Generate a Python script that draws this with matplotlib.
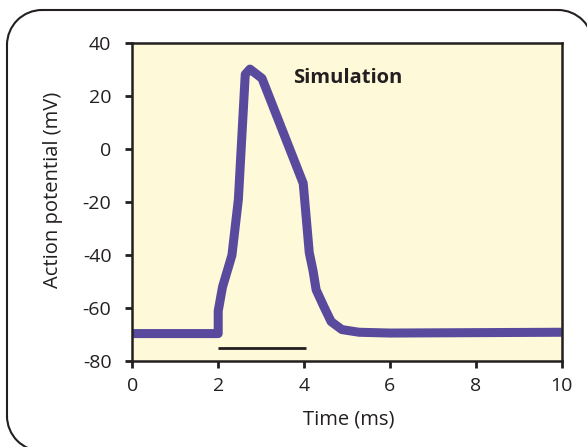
import numpy as np
import matplotlib
matplotlib.use('Agg')
import matplotlib.pyplot as plt
from matplotlib.patches import Arc
from matplotlib.lines import Line2D
from matplotlib.transforms import IdentityTransform

# action potential trace
time_ms = [0, 2.0, 2.0, 2.1, 2.32, 2.47, 2.63, 2.74, 3.02, 3.98, 4.05, 4.12,
           4.21, 4.28, 4.45, 4.63, 4.88, 5.28, 6.0, 10.0]
potential_mv = [-69.5, -69.5, -61, -52, -40, -19, 28, 30, 26.5, -13, -26, -39,
                -46, -53, -59, -65, -68, -69, -69.3, -69]
stim_time = [2.0, 4.05]
stim_level = [-75, -75]

x_ticks = [0, 2, 4, 6, 8, 10]
y_ticks = [40, 20, 0, -20, -40, -60, -80]

plt.rcParams['font.family'] = ['Open Sans', 'DejaVu Sans']
plt.rcParams['axes.unicode_minus'] = False
ink = '#231f20'

fig = plt.figure(figsize=(5.87, 4.47), dpi=100)
ax = fig.add_axes([0.2254, 0.1913, 0.7316, 0.7136])
ax.set_facecolor('#fef9d8')

ax.plot(time_ms, potential_mv, color='#594a9d', lw=6.5,
        solid_joinstyle='round', solid_capstyle='butt')
ax.plot(stim_time, stim_level, color=ink, lw=2, solid_capstyle='butt')

ax.text(3.74, 26.6, 'Simulation', fontsize=14.5, fontweight='bold',
        color=ink, ha='left', va='center')

ax.set_xlim(0, 10)
ax.set_ylim(-80, 40)
ax.set_xticks(x_ticks)
ax.set_yticks(y_ticks)
ax.tick_params(direction='out', length=5, width=2, color=ink,
               labelsize=14, labelcolor=ink)
ax.tick_params(axis='y', pad=10)
ax.tick_params(axis='x', pad=6)
for s in ax.spines.values():
    s.set_linewidth(1.8)
    s.set_color(ink)
ax.set_xlabel('Time (ms)', fontsize=14.5, color=ink)
ax.set_ylabel('Action potential (mV)', fontsize=14.5, color=ink)
ax.xaxis.set_label_coords(0.503, -0.152)
ax.yaxis.set_label_coords(-0.162, 0.538)

# rounded panel frame in pixels; right and bottom edges run off the canvas
px = IdentityTransform()
left, right, top, bottom, r = 7, 593, 437, -4, 35
frame_kw = dict(color=ink, lw=1.5, transform=px)
fig.add_artist(Line2D([left + r, right - r], [top, top], **frame_kw))
fig.add_artist(Line2D([left, left], [bottom + r, top - r], **frame_kw))
fig.add_artist(Arc((left + r, top - r), 2 * r, 2 * r, theta1=90, theta2=180, **frame_kw))
fig.add_artist(Arc((left + r, bottom + r), 2 * r, 2 * r, theta1=180, theta2=270, **frame_kw))
fig.add_artist(Arc((right - r, top - r), 2 * r, 2 * r, theta1=0, theta2=90, **frame_kw))

fig.savefig('out.png', dpi=100)
